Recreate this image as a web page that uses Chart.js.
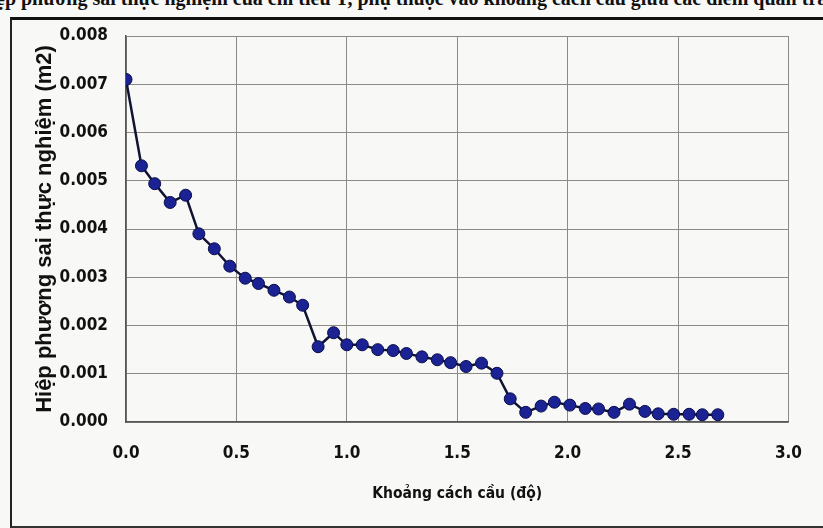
<!DOCTYPE html>
<html>
<head>
<meta charset="utf-8">
<script src="https://cdn.jsdelivr.net/npm/chart.js@4.4.1/dist/chart.umd.min.js"></script>
<style>
  body { margin: 0; background: #f8f8f6; }
  #wrap { position: relative; width: 823px; height: 528px; overflow: hidden; background: #f8f8f6; }
  #caption {
    position: absolute; left: -4px; top: -13px; white-space: nowrap;
    font-family: "Liberation Serif", serif; font-size: 20px; font-weight: bold; color: #111;
  }
  #frame {
    position: absolute; left: 10px; top: 17px; width: 830px; height: 506px;
    border-left: 2px solid #222; border-top: 3px solid #111; border-bottom: 2px solid #333;
  }
  canvas { position: absolute; left: 0; top: 0; }
</style>
</head>
<body>
<div id="wrap">
  <div id="caption">ệp phương sai thực nghiệm của chỉ tiêu Y, phụ thuộc vào khoảng cách cầu giữa các điểm quan trắc y</div>
  <div id="frame"></div>
  <canvas id="chart" width="823" height="528"></canvas>
</div>
<script>
// khoảng cách cầu (độ)
const distances = [0.00, 0.07, 0.13, 0.20, 0.27, 0.33, 0.40, 0.47, 0.54, 0.60,
  0.67, 0.74, 0.80, 0.87, 0.94, 1.00, 1.07, 1.14, 1.21, 1.27,
  1.34, 1.41, 1.47, 1.54, 1.61, 1.68, 1.74, 1.81, 1.88, 1.94,
  2.01, 2.08, 2.14, 2.21, 2.28, 2.35, 2.41, 2.48, 2.55, 2.61, 2.68]
// hiệp phương sai thực nghiệm (m2)
const covariances = [0.00710, 0.00531, 0.00494, 0.00455, 0.00470, 0.00390, 0.00359, 0.00323, 0.00298, 0.00287,
  0.00273, 0.00259, 0.00242, 0.00156, 0.00185, 0.00160, 0.00160, 0.00150, 0.00148, 0.00142,
  0.00135, 0.00129, 0.00123, 0.00115, 0.00122, 0.00101, 0.00048, 0.00020, 0.00033, 0.00041,
  0.00035, 0.00028, 0.00027, 0.00020, 0.00037, 0.00022, 0.00017, 0.00016, 0.00016, 0.00015, 0.00015]
const xTicks = [0, 0.5, 1, 1.5, 2, 2.5, 3]
const yTicks = [0, 0.001, 0.002, 0.003, 0.004, 0.005, 0.006, 0.007, 0.008]

const points = distances.map((d, i) => ({ x: d, y: covariances[i] }))
const fam = "'DejaVu Sans Condensed', 'Liberation Sans Narrow', 'Liberation Sans', sans-serif"
const tickFont = { family: fam, size: 17, weight: "bold" }

new Chart("chart", {
  type: "scatter",
  data: {
    datasets: [{
      data: points,
      showLine: true,
      borderColor: "#111333",
      borderWidth: 2.5,
      pointRadius: 6,
      pointHoverRadius: 6,
      pointBackgroundColor: "#1a2294",
      pointBorderColor: "#0a0d4a",
      pointBorderWidth: 1
    }]
  },
  options: {
    responsive: false,
    animation: false,
    layout: { padding: { left: 32, top: 36, right: 31, bottom: 25 } },
    plugins: { legend: { display: false }, tooltip: { enabled: false } },
    scales: {
      x: {
        type: "linear",
        min: xTicks[0],
        max: xTicks[xTicks.length - 1],
        afterBuildTicks: (s) => { s.ticks = xTicks.map(v => ({ value: v })) },
        afterFit: (s) => { s.height = 81 },
        grid: { color: "#8e8a86", lineWidth: 1, drawTicks: false },
        border: { color: "#555", width: 1.5 },
        ticks: { padding: 21, color: "#111", font: tickFont, callback: (v) => v.toFixed(1) },
        title: { display: true, text: "Khoảng cách cầu (độ)", color: "#111", font: { family: fam, size: 15.5, weight: "bold" }, padding: 0 }
      },
      y: {
        min: yTicks[0],
        max: yTicks[yTicks.length - 1],
        afterBuildTicks: (s) => { s.ticks = yTicks.map(v => ({ value: v })) },
        afterFit: (s) => { s.width = 126 - 32 },
        grid: { color: "#8e8a86", lineWidth: 1, drawTicks: false },
        border: { color: "#555", width: 1.5 },
        ticks: { padding: 18, color: "#111", font: tickFont, callback: (v) => v.toFixed(3) },
        title: { display: true, text: "Hiệp phương sai thực nghiệm (m2)", color: "#111", font: { family: "'Liberation Sans', sans-serif", size: 22, weight: "bold" }, padding: 0 }
      }
    }
  }
})
</script>
</body>
</html>
